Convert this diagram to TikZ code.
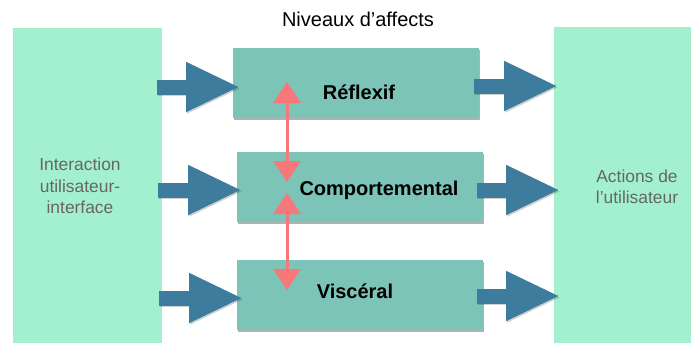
\documentclass[tikz,border=0pt]{standalone}
\usepackage{fontspec}
\setmainfont{Liberation Sans}
\usetikzlibrary{arrows.meta,shadows}
\definecolor{panelgreen}{HTML}{A3F0CF}
\definecolor{boxteal}{HTML}{7CC3B8}
\definecolor{arrowblue}{HTML}{3E7C9E}
\definecolor{redarrow}{HTML}{F7777A}
\definecolor{paneltext}{HTML}{666666}
\tikzset{
  panel/.style={fill=panelgreen, draw=none, inner sep=0pt},
  levelbox/.style={fill=boxteal, draw=none, inner sep=0pt,
    drop shadow={shadow xshift=1pt, shadow yshift=-2pt, opacity=0.3, fill=black}},
  leveltext/.style={font=\fontsize{20}{22}\selectfont\bfseries, text=black, inner sep=0pt},
  paneltxt/.style={font=\fontsize{17.4}{21.5}\selectfont, text=paneltext, align=center, inner sep=0pt},
  bigarrow/.style={arrowblue, line width=15pt, -{Triangle[length=54pt, width=46pt]},
    preaction={draw=black, opacity=0.18, line width=15pt, -{Triangle[length=54pt, width=46pt]},
      transform canvas={xshift=1pt, yshift=-1.5pt}}},
  linkarrow/.style={redarrow, line width=3pt, {Triangle[length=21pt, width=27pt]}-{Triangle[length=21pt, width=27pt]}}
}
\begin{document}
\begin{tikzpicture}[x=1pt,y=-1pt]
\useasboundingbox (0,0) rectangle (691,343);
% panels
\node[panel, minimum width=149pt, minimum height=315pt] (L) at (87.5,185.5) {};
\node[panel, minimum width=137pt, minimum height=316pt] (R) at (622.5,185) {};
\node[paneltxt] (Ltxt) at (80,186) {Interaction\\utilisateur-\\interface};
\node[paneltxt] (Rtxt) at (637,187) {Actions de\\l’utilisateur};
% title
\node[font=\fontsize{20}{22}\selectfont, inner sep=0pt] (title) at (358,19) {Niveaux d’affects};
% level boxes
\node[levelbox, minimum width=246pt, minimum height=70pt] (B1) at (356,83) {};
\node[levelbox, minimum width=246pt, minimum height=70pt] (B2) at (360,187) {};
\node[levelbox, minimum width=246pt, minimum height=70pt] (B3) at (360,295) {};
\node[leveltext] (T1) at (359,92) {Réflexif};
\node[leveltext] (T2) at (379,190) {Comportemental};
\node[leveltext] (T3) at (355,291) {Viscéral};
% arrow end points
\coordinate (la1) at (157,87);  \coordinate (lb1) at (240,87);
\coordinate (la2) at (158,190); \coordinate (lb2) at (242,190);
\coordinate (la3) at (159,298); \coordinate (lb3) at (243,298);
\coordinate (ra1) at (474,86);  \coordinate (rb1) at (558,86);
\coordinate (ra2) at (477,190); \coordinate (rb2) at (560,190);
\coordinate (ra3) at (477,296); \coordinate (rb3) at (560,296);
\draw[bigarrow] (la1) -- (lb1);
\draw[bigarrow] (la2) -- (lb2);
\draw[bigarrow] (la3) -- (lb3);
\draw[bigarrow] (ra1) -- (rb1);
\draw[bigarrow] (ra2) -- (rb2);
\draw[bigarrow] (ra3) -- (rb3);
% red links
\coordinate (k1a) at (287,82);  \coordinate (k1b) at (287,182);
\coordinate (k2a) at (287,193); \coordinate (k2b) at (287,290);
\draw[linkarrow] (k1a) -- (k1b);
\draw[linkarrow] (k2a) -- (k2b);
\end{tikzpicture}
\end{document}
